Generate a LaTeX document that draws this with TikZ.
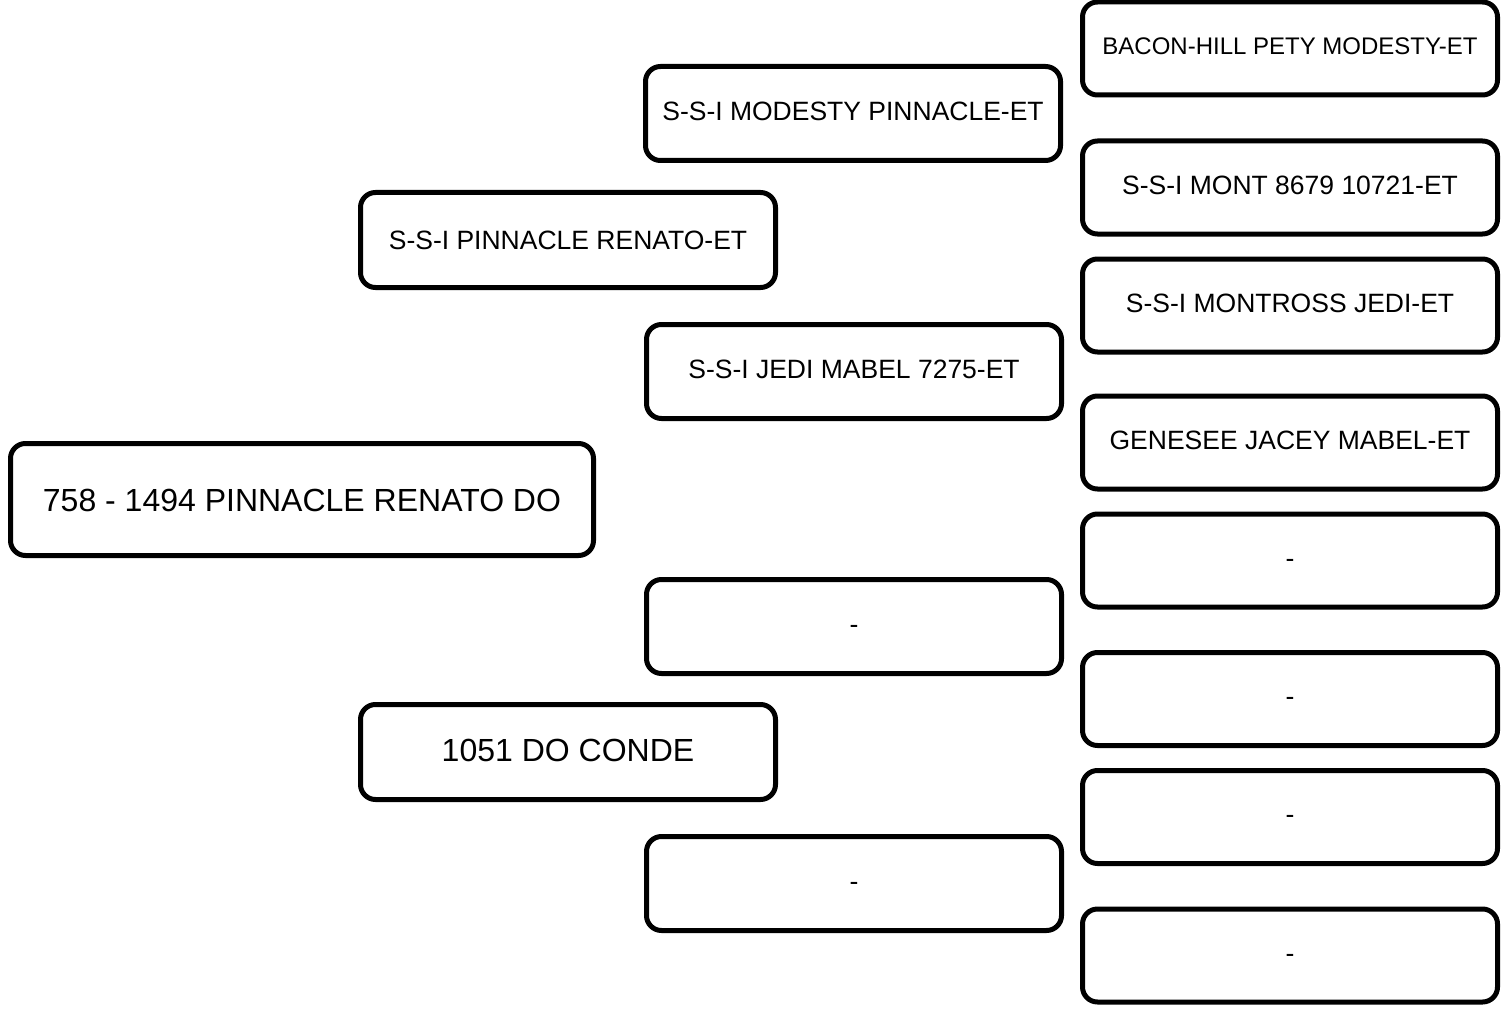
\documentclass[tikz,border=0pt]{standalone}
\usepackage{fontspec}
\setmainfont{Liberation Sans}
\usepackage{tikz}

\tikzset{
  animal/.style={draw, line width=5pt, rounded corners=15pt, fill=white,
    minimum width=415pt, minimum height=94pt, inner sep=0pt,
    text height=19pt, text depth=5pt,
    font=\fontsize{26.5}{30}\selectfont},
  bigtext/.style={font=\fontsize{32}{36}\selectfont, text height=23pt}
}

\begin{document}
\begin{tikzpicture}[x=1pt,y=-1pt]
\useasboundingbox (0,0) rectangle (1501,1011);
\node (root) at (302,499.5) [animal,bigtext,text depth=0pt,minimum width=583pt,minimum height=112pt] {758 - 1494 PINNACLE RENATO DO};
\node (sire) at (568,240) [animal,minimum height=95pt,text depth=0pt] {S-S-I PINNACLE RENATO-ET};
\node (dam) at (568,752) [animal,bigtext,minimum height=95pt,text depth=4pt] {1051 DO CONDE};
\node (ss) at (853,113.5) [animal] {S-S-I MODESTY PINNACLE-ET};
\node (sd) at (854,371.5) [animal] {S-S-I JEDI MABEL 7275-ET};
\node (ds) at (854,626.5) [animal] {-};
\node (dd) at (854,883.5) [animal] {-};
\node (sss) at (1290,48.5) [animal,minimum height=93pt,text depth=6pt,font=\fontsize{24}{28}\selectfont] {BACON-HILL PETY MODESTY-ET};
\node (ssd) at (1290,187.5) [animal,minimum height=93pt,text depth=6pt] {S-S-I MONT 8679 10721-ET};
\node (sds) at (1290,305.5) [animal,minimum height=93pt,text depth=6pt] {S-S-I MONTROSS JEDI-ET};
\node (sdd) at (1290,442.5) [animal,minimum height=93pt,text depth=6pt] {GENESEE JACEY MABEL-ET};
\node (dss) at (1290,560.5) [animal,minimum height=93pt,text depth=6pt] {-};
\node (dsd) at (1290,699) [animal,minimum height=93pt,text depth=6pt] {-};
\node (dds) at (1290,817) [animal,minimum height=93pt,text depth=6pt] {-};
\node (ddd) at (1290,955.5) [animal,minimum height=93pt,text depth=6pt] {-};
\end{tikzpicture}
\end{document}
